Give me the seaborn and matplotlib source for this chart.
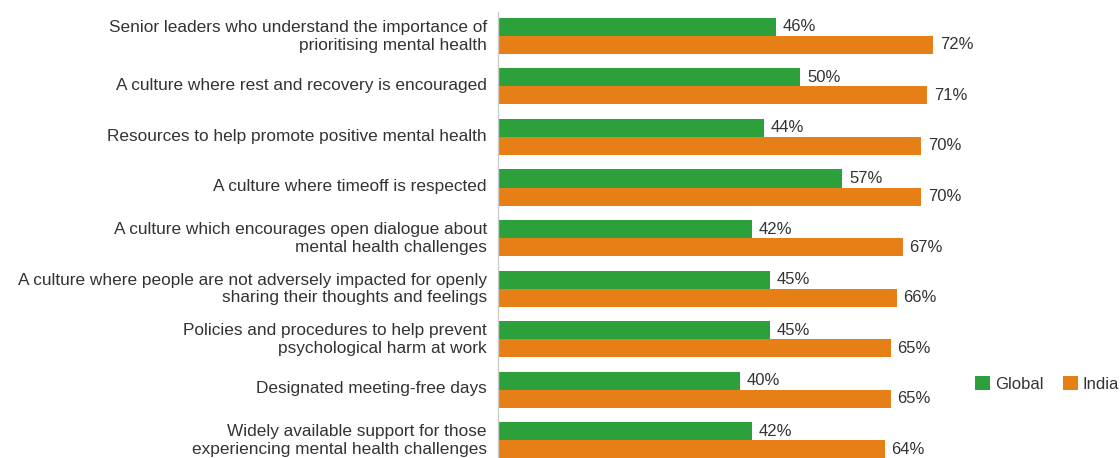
import matplotlib
matplotlib.use("Agg")
import matplotlib.pyplot as plt
import matplotlib.transforms as mtransforms
import seaborn as sns
import pandas as pd
from matplotlib.patches import Patch

categories = [
    "Senior leaders who understand the importance of\nprioritising mental health",
    "A culture where rest and recovery is encouraged",
    "Resources to help promote positive mental health",
    "A culture where timeoff is respected",
    "A culture which encourages open dialogue about\nmental health challenges",
    "A culture where people are not adversely impacted for openly\nsharing their thoughts and feelings",
    "Policies and procedures to help prevent\npsychological harm at work",
    "Designated meeting-free days",
    "Widely available support for those\nexperiencing mental health challenges",
]
global_vals = [46, 50, 44, 57, 42, 45, 45, 40, 42]
india_vals = [72, 71, 70, 70, 67, 66, 65, 65, 64]
series_names = ["Global", "India"]
colors = ["#2ca13b", "#e67f16"]

df = pd.DataFrame({
    "Category": categories * 2,
    "Value": global_vals + india_vals,
    "Series": [series_names[0]] * len(categories) + [series_names[1]] * len(categories),
})

sns.set_theme(style="white")
plt.rcParams["font.family"] = ["Liberation Sans", "DejaVu Sans"]

fig = plt.figure(figsize=(11.2, 4.58), dpi=100)
ax_left = 498 / 1120
ax_top = 12 / 458
ax = fig.add_axes([ax_left, 0, 1 - ax_left, 1 - ax_top])

sns.barplot(data=df, y="Category", x="Value", hue="Series", orient="h",
            palette=colors, width=0.713, saturation=1, ax=ax, legend=False,
            linewidth=0, edgecolor="none")

for c in ax.containers:
    ax.bar_label(c, fmt="%d%%", padding=5, fontsize=12, color="#333333")

px_per_unit = 6.04
ax.set_xlim(0, (1120 - 498) / px_per_unit)
ax.set_ylim(8.356, -0.475)
ax.set_xlabel("")
ax.set_ylabel("")
ax.set_xticks([])
for s in ["top", "right", "bottom"]:
    ax.spines[s].set_visible(False)
ax.spines["left"].set_color("#cccccc")
ax.spines["left"].set_linewidth(1)
ax.tick_params(axis="y", length=0, pad=8, labelsize=12.4, labelcolor="#333333")
offset = mtransforms.ScaledTranslation(0, 1.5 / 72, fig.dpi_scale_trans)
for t in ax.get_yticklabels():
    t.set_linespacing(1.2)
    t.set_transform(t.get_transform() + offset)

handles = [Patch(facecolor=colors[i], edgecolor="none", label=series_names[i]) for i in range(2)]
fig.legend(handles=handles, loc="center left", bbox_to_anchor=(975 / 1120, 1 - 384 / 458),
           ncol=2, frameon=False, fontsize=12, handlelength=0.9, handleheight=0.9,
           handletextpad=0.3, columnspacing=1.15, borderpad=0, borderaxespad=0,
           labelcolor="#333333")

fig.savefig("out.png", dpi=100)
